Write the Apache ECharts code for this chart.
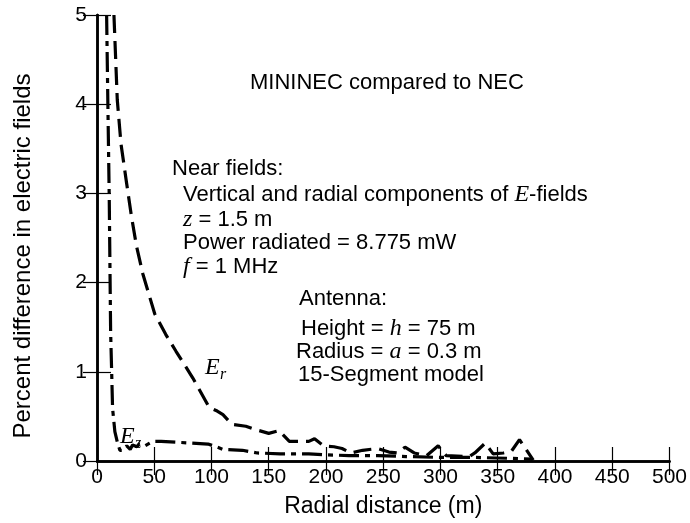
<!DOCTYPE html>
<html>
<head>
<meta charset="utf-8">
<script src="https://cdn.jsdelivr.net/npm/echarts@6/dist/echarts.min.js"></script>
<style>
  html, body { margin: 0; padding: 0; background: #fff; }
  #chart { width: 690px; height: 523px; }
</style>
</head>
<body>
<div id="chart"></div>
<script>
// Radial component E_r: percent difference vs radial distance
const radialEr = [14.8, 17.7, 21, 25.8, 30, 34.5, 40, 50.4, 60, 69, 83.7, 98, 105, 110, 118, 130, 139, 150, 159, 168, 185, 190, 198, 207, 214, 222, 232, 245, 255, 262, 269, 277, 288, 298, 305, 325, 330, 339, 346, 355, 362, 369, 381];
const diffEr   = [5.0, 4.05, 3.55, 3.12, 2.75, 2.41, 2.1, 1.65, 1.42, 1.23, 0.93, 0.6, 0.56, 0.52, 0.41, 0.39, 0.35, 0.31, 0.34, 0.22, 0.22, 0.25, 0.17, 0.16, 0.14, 0.09, 0.12, 0.14, 0.1, 0.09, 0.155, 0.09, 0.06, 0.17, 0.06, 0.05, 0.09, 0.2, 0.08, 0.09, 0.11, 0.24, 0.01];

// Vertical component E_z
const radialEz = [8.4, 9.5, 10.7, 11.9, 13, 13.6, 15.6, 18, 20, 23, 26, 29, 31, 35, 37, 42, 46, 49, 56, 70, 97, 104, 110, 127, 140, 160, 185, 200, 220, 245, 270, 300, 330, 360, 380];
const diffEz   = [5.0, 4.0, 2.94, 1.45, 0.9, 0.59, 0.33, 0.2, 0.12, 0.12, 0.17, 0.13, 0.18, 0.16, 0.19, 0.17, 0.2, 0.22, 0.22, 0.21, 0.19, 0.16, 0.13, 0.12, 0.09, 0.08, 0.08, 0.07, 0.06, 0.06, 0.05, 0.04, 0.04, 0.03, 0.02];

const xTicks = { min: 0, max: 500, step: 50 };
const yTicks = { min: 0, max: 5, step: 1 };

const FONT = '"Liberation Sans", Arial, Helvetica, sans-serif';
const MATH = '"Liberation Serif", "DejaVu Serif", serif';
const FS = 22;      // annotation text
const FS_TICK = 21; // tick labels

const pairs = (xs, ys) => xs.map((x, i) => [x, ys[i]]);

const chart = echarts.init(document.getElementById('chart'), null, { renderer: 'canvas' });

const axisCommon = {
  axisLine: { show: true, lineStyle: { color: '#000', width: 2.5 } },
  axisTick: { show: true, inside: true, length: 14, lineStyle: { color: '#000', width: 1.2 } },
  splitLine: { show: false }
};

const mathRich = { m: { fontFamily: MATH, fontStyle: 'italic', fontSize: FS + 2, fill: '#000' } };

function txt(left, top, text, extra) {
  return {
    type: 'text', left: left, top: top,
    style: Object.assign({ text: text, fill: '#000', font: FS + 'px ' + FONT, rich: mathRich }, extra || {})
  };
}

chart.setOption({
  animation: false,
  backgroundColor: '#fff',
  grid: { left: 97, right: 18, top: 15, bottom: 60, containLabel: false },
  xAxis: [
    Object.assign({}, axisCommon, {
      type: 'value', position: 'bottom', min: xTicks.min, max: xTicks.max, interval: xTicks.step,
      name: 'Radial distance (m)', nameLocation: 'middle', nameGap: 34,
      nameTextStyle: { color: '#000', fontFamily: FONT, fontSize: 23 },
      axisLabel: { color: '#000', fontFamily: FONT, fontSize: FS_TICK, margin: 6 }
    }),
    Object.assign({}, axisCommon, {
      type: 'value', position: 'top', min: xTicks.min, max: xTicks.max, interval: xTicks.step,
      axisLabel: { show: false }
    })
  ],
  yAxis: [
    Object.assign({}, axisCommon, {
      type: 'value', position: 'left', min: yTicks.min, max: yTicks.max, interval: yTicks.step,
      name: 'Percent difference in electric fields', nameLocation: 'middle', nameGap: 62,
      nameTextStyle: { color: '#000', fontFamily: FONT, fontSize: 24, padding: [0, 0, 0, -36] },
      axisLabel: { color: '#000', fontFamily: FONT, fontSize: FS_TICK, margin: 10 }
    }),
    Object.assign({}, axisCommon, {
      type: 'value', position: 'right', min: yTicks.min, max: yTicks.max, interval: yTicks.step,
      axisLabel: { show: false }
    })
  ],
  series: [
    {
      name: 'Er', type: 'line', xAxisIndex: 0, yAxisIndex: 0,
      data: pairs(radialEr, diffEr), showSymbol: false, clip: true,
      lineStyle: { color: '#000', width: 3.2, type: [18, 8] }
    },
    {
      name: 'Ez', type: 'line', xAxisIndex: 0, yAxisIndex: 0,
      data: pairs(radialEz, diffEz), showSymbol: false, clip: true,
      lineStyle: { color: '#000', width: 3.2, type: [20, 6, 5, 6] }
    }
  ],
  graphic: [
    txt(250, 72, 'MININEC compared to NEC'),
    txt(172, 158, 'Near fields:'),
    txt(183, 183, 'Vertical and radial components of {m|E}-fields'),
    txt(183, 208, '{m|z} = 1.5 m'),
    txt(183, 232, 'Power radiated = 8.775 mW'),
    txt(183, 255, '{m|f} = 1 MHz'),
    txt(299, 288, 'Antenna:'),
    txt(301, 317, 'Height = {m|h} = 75 m'),
    txt(296, 340, 'Radius = {m|a} = 0.3 m'),
    txt(298, 364, '15-Segment model'),
    // curve labels
    txt(205, 356, 'E', { font: 'italic 24px ' + MATH }),
    txt(220, 367, 'r', { font: 'italic 16px ' + MATH }),
    txt(120, 425, 'E', { font: 'italic 24px ' + MATH }),
    txt(135, 436, 'z', { font: 'italic 16px ' + MATH })
  ]
});
</script>
</body>
</html>
